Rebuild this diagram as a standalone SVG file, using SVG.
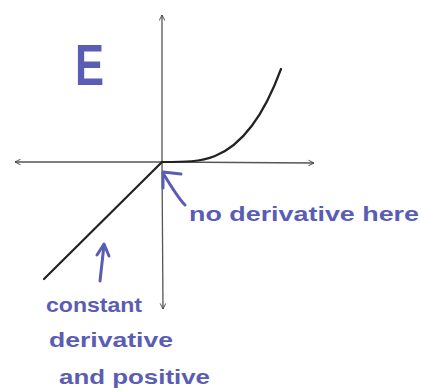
<svg xmlns="http://www.w3.org/2000/svg" width="421" height="392" viewBox="0 0 421 392">
<defs>
<marker id="ah" viewBox="0 0 10 10" refX="9" refY="5" markerWidth="7" markerHeight="7" orient="auto" markerUnits="userSpaceOnUse">
<path d="M1,1 L9,5 L1,9" fill="none" stroke="#444" stroke-width="1.3"/>
</marker>
</defs>
<style>
.ax{stroke:#555;stroke-width:1.3;fill:none}
.cv{stroke:#222;stroke-width:2.2;fill:none;stroke-linecap:round}
.pu{stroke:#5a5db3;stroke-width:3;fill:none;stroke-linecap:round;stroke-linejoin:round}
.t{font-family:"Liberation Sans","DejaVu Sans",sans-serif;fill:#5a5db3;font-weight:bold}
</style>
<rect width="421" height="392" fill="#fff"/>
<g id="axes">
<line class="ax" x1="162" y1="162" x2="15" y2="162" marker-end="url(#ah)"/>
<line class="ax" x1="162" y1="162" x2="314" y2="163" marker-end="url(#ah)"/>
<line class="ax" x1="162" y1="162" x2="162" y2="15" marker-end="url(#ah)"/>
<line class="ax" x1="162" y1="162" x2="163" y2="309" marker-end="url(#ah)"/>
</g>
<g id="curves">
<path class="cv" d="M162,162 L44,279"/>
<path class="cv" d="M162,162 C185,162 200,162 215,156 C245,144 266,110 281,69"/>
</g>
<g id="label-E">
<text class="t" x="75" y="85" font-size="58" font-weight="normal" textLength="29" lengthAdjust="spacingAndGlyphs">E</text>
</g>
<g id="connectors">
<path class="pu" d="M185,205 C178,198 172,188 163,173"/>
<path class="pu" d="M181,174 L163,172 L163,188"/>
<path class="pu" d="M100,281 L104,245"/>
<path class="pu" d="M97,255 L104,244 L109,256"/>
</g>
<g id="label-noderiv">
<text class="t" x="189" y="221" font-size="21" textLength="230" lengthAdjust="spacingAndGlyphs">no derivative here</text>
</g>
<g id="label-const">
<text class="t" x="46" y="312" font-size="20" textLength="96" lengthAdjust="spacingAndGlyphs">constant</text>
<text class="t" x="49" y="347" font-size="21" textLength="124" lengthAdjust="spacingAndGlyphs">derivative</text>
<text class="t" x="59" y="384" font-size="21" textLength="151" lengthAdjust="spacingAndGlyphs">and positive</text>
</g>
</svg>
